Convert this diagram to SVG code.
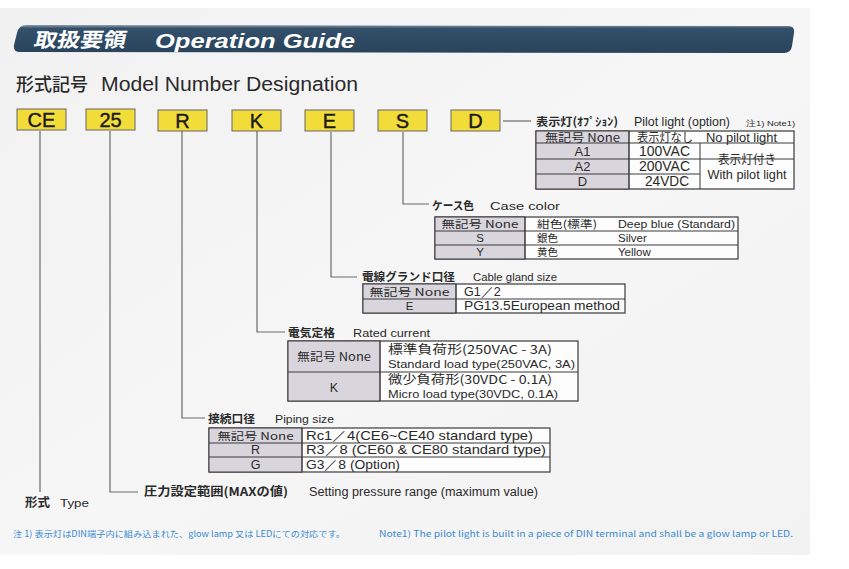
<svg xmlns="http://www.w3.org/2000/svg" width="849" height="569" viewBox="0 0 849 569">
<defs>
<linearGradient id="page" x1="0" y1="0" x2="1" y2="1">
<stop offset="0" stop-color="#f1f1f1"/>
<stop offset="0.5" stop-color="#f6f6f6"/>
<stop offset="1" stop-color="#f2f2f2"/>
</linearGradient>
<linearGradient id="bar" x1="0" y1="0" x2="0" y2="1">
<stop offset="0" stop-color="#8a9aa8"/>
<stop offset="0.12" stop-color="#34506a"/>
<stop offset="1" stop-color="#28435b"/>
</linearGradient>
</defs>
<style>
.jp{font-family:"Noto Sans CJK JP","Noto Sans",sans-serif;fill:#2a2a2a}
.en{font-family:"Liberation Sans","DejaVu Sans",sans-serif;fill:#2a2a2a}
.lb{font-weight:bold}
.box{fill:#f2dc3a;stroke:#666;stroke-width:1}
.code{font-family:"Liberation Sans",sans-serif;font-size:20px;fill:#1a1a1a;stroke:#1a1a1a;stroke-width:0.4;text-anchor:middle}
.tb{fill:#fdfdfd;stroke:#3a3a3a;stroke-width:1.2}
.c1{fill:#d9d5dd;stroke:#3a3a3a;stroke-width:1}
.ln{fill:none;stroke:#3a3a3a;stroke-width:1}
.con{fill:none;stroke:#6a6a6a;stroke-width:1.2}
.t{font-size:11.5px}
.s{font-size:10.5px}
.mid{text-anchor:middle}
.note{font-family:"Noto Sans CJK JP","Liberation Sans",sans-serif;font-size:8.5px;fill:#3b8ad2}
</style>
<rect x="0" y="0" width="849" height="569" fill="#ffffff"/>
<rect x="0" y="8" width="810" height="547" fill="url(#page)"/>

<g id="header">
<path d="M26,25 L788,26 Q795,26 794,33 L792,46 Q791,53 784,53 L20,52 Q13,52 14,45 L17,33 Q19,25 26,25 Z" fill="url(#bar)"/>
<text x="35" y="47.5" font-family="Noto Sans CJK JP,sans-serif" font-size="20" font-weight="bold" fill="#ffffff" textLength="92" lengthAdjust="spacingAndGlyphs" transform="translate(8,0) skewX(-12)">取扱要領</text>
<text x="155" y="47.5" font-family="Liberation Sans,sans-serif" font-size="21" font-weight="bold" font-style="italic" fill="#ffffff" textLength="200" lengthAdjust="spacingAndGlyphs">Operation Guide</text>
</g>

<g id="title">
<text x="16" y="91" class="jp" font-size="18" font-weight="500" textLength="72" lengthAdjust="spacingAndGlyphs">形式記号</text>
<text x="101" y="91" class="en" font-size="20" textLength="257" lengthAdjust="spacingAndGlyphs">Model Number Designation</text>
</g>

<g id="connectors">
<path class="con" d="M40,131 V492"/>
<path class="con" d="M110,131 V492 H138"/>
<path class="con" d="M182,131 V418 H205"/>
<path class="con" d="M257,131 V332 H285"/>
<path class="con" d="M331,132 V277 H357"/>
<path class="con" d="M403,132 V204 H429"/>
<path class="con" d="M503,121 H531"/>
</g>

<g id="code-CE"><rect class="box" x="17" y="109" width="49" height="21"/><text class="code" x="41.5" y="127">CE</text></g>
<g id="code-25"><rect class="box" x="86" y="109" width="49" height="21"/><text class="code" x="110.5" y="127">25</text></g>
<g id="code-R"><rect class="box" x="158" y="110" width="49" height="21"/><text class="code" x="182.5" y="128">R</text></g>
<g id="code-K"><rect class="box" x="232" y="110" width="49" height="21"/><text class="code" x="256.5" y="128">K</text></g>
<g id="code-E"><rect class="box" x="305" y="110" width="49" height="21"/><text class="code" x="329.5" y="128">E</text></g>
<g id="code-S"><rect class="box" x="378" y="110" width="49" height="21"/><text class="code" x="402.5" y="128">S</text></g>
<g id="code-D"><rect class="box" x="451" y="110" width="49" height="21"/><text class="code" x="475.5" y="128">D</text></g>

<g id="pilot-light">
<text x="536" y="126" class="jp lb" font-size="11.5" textLength="82" lengthAdjust="spacingAndGlyphs">表示灯(ｵﾌﾟｼｮﾝ)</text>
<text x="634" y="126" class="en" font-size="12" textLength="96" lengthAdjust="spacingAndGlyphs">Pilot light (option)</text>
<text x="746" y="126" class="en" font-size="7.5" textLength="49" lengthAdjust="spacingAndGlyphs">注1)  Note1)</text>
<rect class="tb" x="536" y="131" width="258" height="58"/>
<rect class="c1" x="536" y="131" width="93" height="58"/>
<path class="ln" d="M536,143 H794 M536,159 H794 M536,174 H700 M629,131 V189 M700,143 V189"/>
<text x="582.5" y="141.5" class="jp t mid" textLength="75" lengthAdjust="spacingAndGlyphs">無記号 None</text>
<text x="637" y="141.5" class="jp" font-size="12" textLength="56" lengthAdjust="spacingAndGlyphs">表示灯なし</text>
<text x="706" y="141.5" class="en" font-size="12.5" textLength="71" lengthAdjust="spacingAndGlyphs">No pilot light</text>
<text x="582.5" y="156" class="en mid" font-size="13">A1</text>
<text x="582.5" y="171" class="en mid" font-size="13">A2</text>
<text x="582.5" y="186" class="en mid" font-size="13">D</text>
<text x="664.5" y="156" class="en mid" font-size="14" textLength="51" lengthAdjust="spacingAndGlyphs">100VAC</text>
<text x="664.5" y="171" class="en mid" font-size="14" textLength="51" lengthAdjust="spacingAndGlyphs">200VAC</text>
<text x="667" y="186" class="en mid" font-size="14" textLength="44" lengthAdjust="spacingAndGlyphs">24VDC</text>
<text x="747" y="164" class="jp mid" font-size="12" textLength="58" lengthAdjust="spacingAndGlyphs">表示灯付き</text>
<text x="747" y="179" class="en mid" font-size="12" textLength="79" lengthAdjust="spacingAndGlyphs">With pilot light</text>
</g>

<g id="case-color">
<text x="432" y="210" class="jp lb" font-size="11.5" textLength="42" lengthAdjust="spacingAndGlyphs">ケース色</text>
<text x="490" y="210" class="en" font-size="11.5" textLength="70" lengthAdjust="spacingAndGlyphs">Case color</text>
<rect class="tb" x="435" y="217" width="303" height="42"/>
<rect class="c1" x="435" y="217" width="90" height="42"/>
<path class="ln" d="M435,231 H738 M435,245 H738 M525,217 V259"/>
<text x="480" y="228" class="jp s mid" textLength="77" lengthAdjust="spacingAndGlyphs">無記号 None</text>
<text x="480" y="242" class="en t mid">S</text>
<text x="480" y="256" class="en t mid">Y</text>
<text x="537" y="228" class="jp s" textLength="60" lengthAdjust="spacingAndGlyphs">紺色(標準)</text>
<text x="537" y="242" class="jp s">銀色</text>
<text x="537" y="256" class="jp s">黄色</text>
<text x="618" y="228" class="en t" textLength="117" lengthAdjust="spacingAndGlyphs">Deep blue (Standard)</text>
<text x="618" y="242" class="en t">Silver</text>
<text x="618" y="256" class="en t">Yellow</text>
</g>

<g id="cable-gland">
<text x="362" y="281" class="jp lb" font-size="11.5" textLength="93" lengthAdjust="spacingAndGlyphs">電線グランド口径</text>
<text x="473" y="281" class="en" font-size="11.5" textLength="84" lengthAdjust="spacingAndGlyphs">Cable gland size</text>
<rect class="tb" x="363" y="284" width="262" height="29"/>
<rect class="c1" x="363" y="284" width="93" height="29"/>
<path class="ln" d="M363,299 H625 M456,284 V313"/>
<text x="409.5" y="296" class="jp s mid" textLength="80" lengthAdjust="spacingAndGlyphs">無記号 None</text>
<text x="409.5" y="310" class="en t mid">E</text>
<text x="464" y="296" class="en" font-size="12.5">G1／2</text>
<text x="464" y="310" class="en" font-size="12.5" textLength="156" lengthAdjust="spacingAndGlyphs">PG13.5European method</text>
</g>

<g id="rated-current">
<text x="288" y="337" class="jp lb" font-size="11.5" textLength="47" lengthAdjust="spacingAndGlyphs">電気定格</text>
<text x="353" y="337" class="en" font-size="11.5" textLength="77" lengthAdjust="spacingAndGlyphs">Rated current</text>
<rect class="tb" x="288" y="341" width="290" height="60"/>
<rect class="c1" x="288" y="341" width="92" height="60"/>
<path class="ln" d="M288,372 H578 M380,341 V401"/>
<text x="334" y="361" class="jp t mid" textLength="74" lengthAdjust="spacingAndGlyphs">無記号 None</text>
<text x="334" y="392" class="en mid" font-size="12.5">K</text>
<text x="388" y="354" class="jp" font-size="12" textLength="164" lengthAdjust="spacingAndGlyphs">標準負荷形(250VAC - 3A)</text>
<text x="388" y="368" class="en" font-size="11" textLength="187" lengthAdjust="spacingAndGlyphs">Standard load type(250VAC, 3A)</text>
<text x="388" y="384" class="jp" font-size="12" textLength="164" lengthAdjust="spacingAndGlyphs">微少負荷形(30VDC - 0.1A)</text>
<text x="388" y="398" class="en" font-size="11" textLength="170" lengthAdjust="spacingAndGlyphs">Micro load type(30VDC, 0.1A)</text>
</g>

<g id="piping-size">
<text x="208" y="423" class="jp lb" font-size="11.5" textLength="47" lengthAdjust="spacingAndGlyphs">接続口径</text>
<text x="275" y="423" class="en" font-size="11.5" textLength="59" lengthAdjust="spacingAndGlyphs">Piping size</text>
<rect class="tb" x="209" y="428" width="341" height="44"/>
<rect class="c1" x="209" y="428" width="93" height="44"/>
<path class="ln" d="M209,443 H550 M209,457 H550 M302,428 V472"/>
<text x="255.5" y="439.5" class="jp s mid" textLength="76" lengthAdjust="spacingAndGlyphs">無記号 None</text>
<text x="255.5" y="454" class="en mid" font-size="12.5">R</text>
<text x="255.5" y="468.5" class="en mid" font-size="12.5">G</text>
<text x="306" y="439.5" class="en" font-size="13" textLength="227" lengthAdjust="spacingAndGlyphs">Rc1／4(CE6~CE40 standard type)</text>
<text x="306" y="454" class="en" font-size="13" textLength="240" lengthAdjust="spacingAndGlyphs">R3／8 (CE60 &amp; CE80 standard type)</text>
<text x="306" y="468.5" class="en" font-size="13" textLength="94" lengthAdjust="spacingAndGlyphs">G3／8 (Option)</text>
</g>

<g id="pressure-range">
<text x="144" y="496" class="jp lb" font-size="12" textLength="144" lengthAdjust="spacingAndGlyphs">圧力設定範囲(MAXの値)</text>
<text x="309" y="496" class="en" font-size="12" textLength="229" lengthAdjust="spacingAndGlyphs">Setting pressure range (maximum value)</text>
</g>

<g id="type-label">
<text x="25" y="507" class="jp lb" font-size="12" textLength="25" lengthAdjust="spacingAndGlyphs">形式</text>
<text x="60" y="507" class="en" font-size="11.5" textLength="29" lengthAdjust="spacingAndGlyphs">Type</text>
</g>

<g id="footnote">
<text x="13" y="537" class="note" textLength="332" lengthAdjust="spacingAndGlyphs">注 1) 表示灯はDIN端子内に組み込まれた、glow lamp 又は LEDにての対応です。</text>
<text x="379" y="537" class="note" font-family="Liberation Sans,sans-serif" textLength="414" lengthAdjust="spacingAndGlyphs">Note1) The pilot light is built in a piece of DIN terminal and shall be a glow lamp or LED.</text>
</g>
</svg>
